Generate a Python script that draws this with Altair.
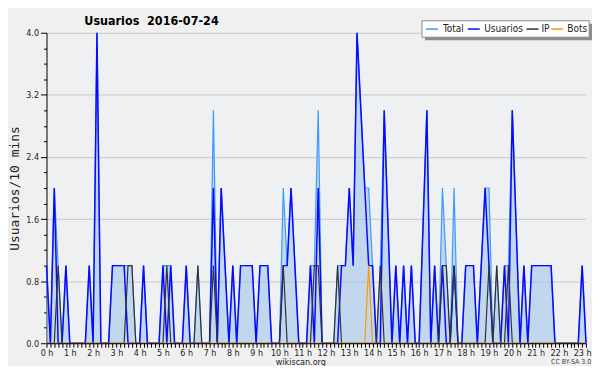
import altair as alt
import pandas as pd

# 10-minute slots, 0:00 .. 23:10
slots = list(range(140))

usuarios = [
    1, 0, 2, 0, 0, 1, 0, 0, 0, 0, 0, 1,
    0, 4, 0, 0, 0, 1, 1, 1, 1, 0, 0, 0,
    0, 1, 0, 0, 0, 0, 1, 0, 1, 0, 0, 0,
    1, 0, 0, 0, 0, 0, 0, 2, 0, 2, 1, 0,
    1, 0, 1, 1, 1, 1, 0, 1, 1, 1, 0, 0,
    0, 1, 1, 2, 1, 0, 0, 0, 1, 0, 2, 0,
    0, 0, 0, 0, 1, 1, 2, 1, 4, 3, 2, 1,
    1, 0, 0, 3, 1.5, 0, 1, 0, 1, 0, 1, 0,
    0, 1.5, 3, 0, 1, 0, 1, 0, 0, 1, 0, 0,
    1, 1, 1, 0, 1, 2, 1, 0, 0, 0, 1, 0,
    3, 1.5, 0, 1, 0, 1, 1, 1, 1, 1, 1, 0,
    0, 0, 0, 0, 0, 0, 1, 0,
]
ip = [
    0, 0, 0, 1, 0, 0, 0, 0, 0, 0, 0, 0,
    0, 0, 0, 0, 0, 0, 0, 0, 0, 1, 1, 0,
    0, 0, 0, 0, 0, 0, 0, 1, 0, 0, 0, 0,
    0, 0, 0, 1, 0, 0, 0, 1, 0, 0, 0, 0,
    0, 0, 0, 0, 0, 0, 0, 0, 0, 0, 0, 0,
    0, 1, 0, 0, 0, 0, 0, 0, 0, 1, 1, 0,
    0, 0, 0, 1, 0, 0, 0, 0, 0, 0, 0, 0,
    0, 0, 1, 0, 0, 0, 0, 0, 0, 0, 0, 0,
    0, 0, 0, 0, 0, 0, 1, 1, 0, 1, 0, 0,
    0, 0, 0, 0, 0, 0, 1, 0, 1, 0, 0, 1,
    0, 0, 0, 0, 0, 0, 0, 0, 0, 0, 0, 0,
    0, 0, 0, 0, 0, 0, 0, 0,
]
bots = [
    0, 0, 0, 0, 0, 0, 0, 0, 0, 0, 0, 0,
    0, 0, 0, 0, 0, 0, 0, 0, 0, 0, 0, 0,
    0, 0, 0, 0, 0, 0, 0, 0, 0, 0, 0, 0,
    0, 0, 0, 0, 0, 0, 0, 0, 0, 0, 0, 0,
    0, 0, 0, 0, 0, 0, 0, 0, 0, 0, 0, 0,
    0, 0, 0, 0, 0, 0, 0, 0, 0, 0, 0, 0,
    0, 0, 0, 0, 0, 0, 0, 0, 0, 0, 0, 1,
    0, 0, 0, 0, 0, 0, 0, 0, 0, 0, 0, 0,
    0, 0, 0, 0, 0, 0, 0, 0, 0, 0, 0, 0,
    0, 0, 0, 0, 0, 0, 0, 0, 0, 0, 0, 0,
    0, 0, 0, 0, 0, 0, 0, 0, 0, 0, 0, 0,
    0, 0, 0, 0, 0, 0, 0, 0,
]
total = [
    1, 0, 2, 1, 0, 1, 0, 0, 0, 0, 0, 1,
    0, 4, 0, 0, 0, 1, 1, 1, 1, 1, 1, 0,
    0, 1, 0, 0, 0, 0, 1, 1, 1, 0, 0, 0,
    1, 0, 0, 1, 0, 0, 0, 3, 0, 2, 1, 0,
    1, 0, 1, 1, 1, 1, 0, 1, 1, 1, 0, 0,
    0, 2, 1, 2, 1, 0, 0, 0, 1, 1, 3, 0,
    0, 0, 0, 1, 1, 1, 2, 1, 4, 3, 2, 2,
    1, 0, 1, 3, 1.5, 0, 1, 0, 1, 0, 1, 0,
    0, 1.5, 3, 0, 1, 0, 2, 1, 0, 2, 0, 0,
    1, 1, 1, 0, 1, 2, 2, 0, 1, 0, 1, 1,
    3, 1.5, 0, 1, 0, 1, 1, 1, 1, 1, 1, 0,
    0, 0, 0, 0, 0, 0, 1, 0,
]

series_names = ["Total", "Usuarios", "IP", "Bots"]
series_colors = ["#3d9bff", "#0a0aff", "#333333", "#ff9900"]

rows = []
for name, vals in zip(series_names, [total, usuarios, ip, bots]):
    for s, v in zip(slots, vals):
        rows.append({"slot": s, "series": name, "value": v})
df = pd.DataFrame(rows)

FONT = "DejaVu Sans Condensed, DejaVu Sans"
MONO = "DejaVu Sans Mono"

x_enc = alt.X(
    "slot:Q",
    scale=alt.Scale(domain=[0, 139], nice=False, zero=False),
    axis=alt.Axis(
        values=slots,
        labelExpr="datum.value % 6 == 0 ? (datum.value / 6) + ' h' : ''",
        labelOverlap=False,
        labelFlush=False,
        labelFont=FONT,
        labelFontSize=9,
        labelColor="#222222",
        labelPadding=1,
        tickSize=4,
        tickColor="#000000",
        domainColor="#000000",
        grid=False,
        zindex=1,
        title="wikiscan.org",
        titleFont=FONT,
        titleFontSize=9,
        titleFontWeight="normal",
        titleColor="#222222",
        titleX=255,
        titleY=18,
        titleBaseline="middle",
    ),
)

major = "round(datum.value * 10) % 8 == 0"
y_enc = alt.Y(
    "value:Q",
    scale=alt.Scale(domain=[0, 4], nice=False),
    axis=alt.Axis(
        values=[round(0.2 * k, 1) for k in range(21)],
        labelExpr=major + " ? format(datum.value, '.1f') : ''",
        labelFont=FONT,
        labelFontSize=9,
        labelColor="#222222",
        labelPadding=2,
        tickSize={"condition": {"test": major, "value": 6}, "value": 3},
        tickColor="#000000",
        domainColor="#000000",
        gridColor={"condition": {"test": major, "value": "#c9c9c9"}, "value": "transparent"},
        zindex=0,
        title="Usuarios/10 mins",
        titleFont=MONO,
        titleFontSize=13,
        titleFontWeight="normal",
        titleColor="#222222",
        titleX=-32.5,
        titleY=156,
        titleAngle=-90,
        titleAlign="center",
        titleBaseline="middle",
    ),
)

color_enc = alt.Color(
    "series:N",
    scale=alt.Scale(domain=series_names, range=series_colors),
    legend=None,
)

base = alt.Chart(df)

area = base.transform_filter(alt.datum.series == "Total").mark_area(
    color="#9cc3ea", opacity=0.55
).encode(x=x_enc, y=y_enc)

layers = [area]
for name, w in zip(series_names, [1.2, 1.5, 1.2, 1.2]):
    layers.append(
        base.transform_filter(alt.datum.series == name)
        .mark_line(strokeWidth=w)
        .encode(x=x_enc, y=y_enc, color=color_enc)
    )

# ---- hand-built legend box (pixel layout relative to the plot area) ----
one = pd.DataFrame({"k": [0]})
LX0, LX1, LY0, LY1 = 377.3, 545.3, -12, 4.5
layers.append(
    alt.Chart(one).mark_rect(color="#8c8c8c").encode(
        x=alt.value(LX0 + 3), x2=alt.value(LX1 + 3), y=alt.value(LY0 + 3), y2=alt.value(LY1 + 3)
    )
)
layers.append(
    alt.Chart(one).mark_rect(fill="#ffffff", stroke="#8a8a8a", strokeWidth=1).encode(
        x=alt.value(LX0), x2=alt.value(LX1), y=alt.value(LY0), y2=alt.value(LY1)
    )
)
sym_x = [381.3, 423.3, 482.3, 507.3]
txt_x = [398.3, 439.8, 497.3, 523.3]
LYC = -3.7
for name, col, sx, tx in zip(series_names, series_colors, sym_x, txt_x):
    layers.append(
        alt.Chart(one).mark_rule(color=col, strokeWidth=1.5).encode(
            x=alt.value(sx), x2=alt.value(sx + 12), y=alt.value(LYC)
        )
    )
    layers.append(
        alt.Chart(pd.DataFrame({"t": [name]})).mark_text(
            align="left", baseline="middle", font=FONT, fontSize=10, color="#222222"
        ).encode(x=alt.value(tx), y=alt.value(LYC), text="t:N")
    )

cc = alt.Chart(pd.DataFrame({"t": ["CC BY-SA 3.0"]})).mark_text(
    align="left", baseline="middle", font=FONT, fontSize=7, color="#444444"
).encode(x=alt.value(507), y=alt.value(331), text="t:N")
layers.append(cc)

chart = alt.layer(*layers).properties(
    width=542.1,
    height=312,
    autosize=alt.AutoSizeParams(type="none"),
    padding={"left": 38.7, "top": 24, "right": 6, "bottom": 22},
    title=alt.TitleParams(
        "Usuarios\u00a0\u00a02016-07-24",
        anchor="start",
        frame="group",
        dx=38,
        dy=13,
        font=FONT,
        fontSize=12.5,
        fontWeight="bold",
        color="#000000",
        offset=6,
    ),
).configure(background="#f0f0f0").configure_view(fill="#eef0f2", stroke=None)

chart.save("out.html", embed_options={"renderer": "svg", "actions": False})
